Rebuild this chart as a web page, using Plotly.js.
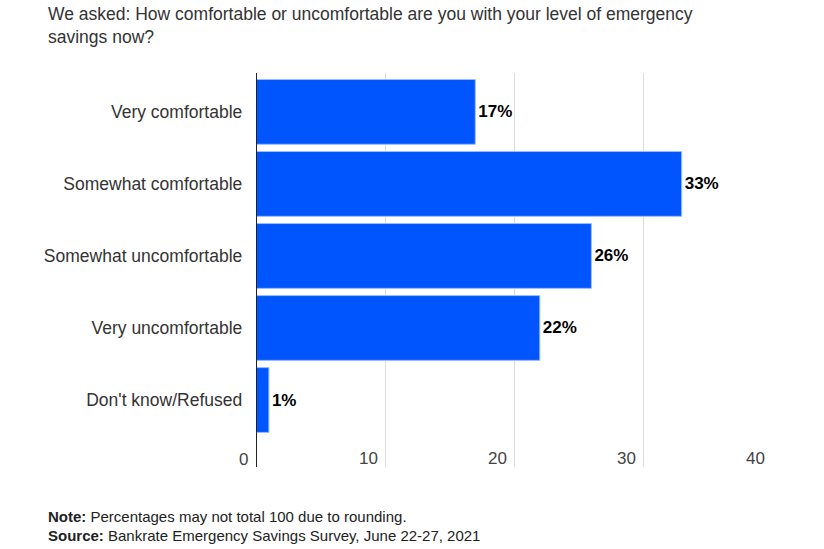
<!DOCTYPE html>
<html>
<head>
<meta charset="utf-8">
<script src="https://cdn.plot.ly/plotly-3.0.1.min.js"></script>
<style>
html,body{margin:0;padding:0;background:#fff;}
#chart{width:824px;height:549px;}
</style>
</head>
<body>
<div id="chart"></div>
<script>
const categories = ["Very comfortable", "Somewhat comfortable", "Somewhat uncomfortable", "Very uncomfortable", "Don't know/Refused"];
const values = [17, 33, 26, 22, 1];
const valueLabels = ["17%", "33%", "26%", "22%", "1%"];
const xTicks = [0, 10, 20, 30, 40];

const FONT = 'Liberation Sans, Arial, sans-serif';

const trace = {
  type: 'bar',
  orientation: 'h',
  y: categories,
  x: values,
  text: valueLabels,
  textposition: 'outside',
  cliponaxis: false,
  textfont: {family: FONT, size: 17, color: '#000', weight: 'bold'},
  marker: {color: '#0055ff', line: {color: '#9dbcff', width: 1}},
  hoverinfo: 'none'
};

const layout = {
  width: 824,
  height: 549,
  margin: {l: 256, r: 52, t: 73, b: 82},
  paper_bgcolor: '#fff',
  plot_bgcolor: '#fff',
  bargap: 0.1,
  showlegend: false,
  font: {family: FONT, size: 17, color: '#333'},
  title: {
    text: 'We asked: How comfortable or uncomfortable are you with your level of emergency<br>savings now?',
    x: 48/824, xanchor: 'left', xref: 'container',
    y: 1 - 20/549, yanchor: 'top', yref: 'container',
    font: {family: FONT, size: 17.5, color: '#333'}
  },
  xaxis: {
    range: [0, 40],
    tickvals: xTicks.slice(1),
    ticktext: xTicks.slice(1).map(String),
    showgrid: true,
    gridcolor: '#dcdcdc',
    gridwidth: 1,
    zeroline: false,
    showline: false,
    ticks: '',
    ticklabelposition: 'inside left',
    ticklabelshift: -7,
    ticklabelstandoff: -6,
    tickfont: {size: 17, color: '#444'},
    fixedrange: true
  },
  yaxis: {
    type: 'category',
    categoryorder: 'array',
    categoryarray: categories,
    range: [4.93, -0.54],
    showgrid: false,
    zeroline: false,
    showline: false,
    ticks: '',
    ticksuffix: '  ',
    ticklabelstandoff: 3,
    tickfont: {size: 17.5, color: '#333'},
    fixedrange: true
  },
  shapes: [{
    type: 'line', xref: 'x', yref: 'paper',
    x0: 0, x1: 0, y0: 0, y1: 1,
    line: {color: '#222', width: 2}
  }],
  annotations: [
    {
      text: String(xTicks[0]),
      xref: 'x', yref: 'paper', x: xTicks[0], y: 0, xanchor: 'right', yanchor: 'bottom',
      xshift: -6, yshift: -4,
      showarrow: false, font: {size: 17, color: '#444'}
    },
    {
      text: '<b>Note:</b> Percentages may not total 100 due to rounding.',
      xref: 'paper', yref: 'paper', x: -210/516, y: -(516-467)/394, xanchor: 'left', yanchor: 'middle',
      showarrow: false, font: {size: 15, color: '#222'}, align: 'left'
    },
    {
      text: '<b>Source:</b> Bankrate Emergency Savings Survey, June 22-27, 2021',
      xref: 'paper', yref: 'paper', x: -210/516, y: -(535-467)/394, xanchor: 'left', yanchor: 'middle',
      showarrow: false, font: {size: 15, color: '#222'}, align: 'left'
    }
  ]
};

Plotly.newPlot('chart', [trace], layout, {displayModeBar: false, staticPlot: true});
</script>
</body>
</html>
